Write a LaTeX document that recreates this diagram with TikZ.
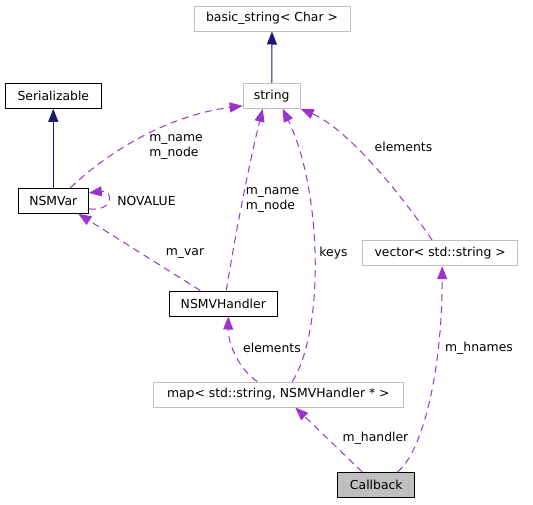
\documentclass[tikz,border=0pt]{standalone}
\usepackage{fontspec}
\setmainfont{DejaVu Sans}
\usepackage{xcolor}
\usetikzlibrary{arrows.meta}

\definecolor{navyedge}{HTML}{191970}
\definecolor{useedge}{HTML}{9A32CD}
\definecolor{extgray}{HTML}{BFBFBF}

\begin{document}
\begin{tikzpicture}[x=1pt,y=-1pt]
\tikzset{every node/.style={font=\fontsize{12.4}{15}\selectfont}}
\tikzset{cls/.style={draw=black,line width=1pt,minimum height=25pt,inner sep=0pt}}
\tikzset{extcls/.style={cls,draw=extgray}}
\tikzset{inherit/.style={draw=navyedge,line width=1pt,-{Triangle[length=13pt,width=10pt]}}}
\tikzset{usage/.style={draw=useedge,line width=1pt,dash pattern=on 7pt off 5pt,-{Triangle[length=13pt,width=10pt]}}}
\tikzset{lbl/.style={inner sep=0pt,align=left}}

\useasboundingbox (0,0) rectangle (533,504);

\node[extcls,minimum width=156pt] (basic) at (272,18.5) {basic\_string< Char >};
\node[extcls,minimum width=57pt] (str) at (271.7,95.8) {string};
\node[cls,minimum width=96pt] (serial) at (53.3,95.8) {Serializable};
\node[cls,minimum width=70pt] (nsmvar) at (53.3,200.8) {NSMVar};
\node[extcls,minimum width=155pt] (vec) at (440.2,253.2) {vector< std::string >};
\node[cls,minimum width=108pt] (nsmh) at (223.3,303.5) {NSMVHandler};
\node[extcls,minimum width=250pt] (map) at (278.3,394.5) {map< std::string, NSMVHandler * >};
\node[cls,fill=extgray,minimum width=77pt] (cb) at (376.3,485) {Callback};

\draw[inherit] (str) -- (basic);
\draw[inherit] (nsmvar) -- (serial);

\draw[usage] ([xshift=17pt]nsmvar.north) .. controls (110,150) and (170,115) .. ([yshift=3pt]str.south west);
\draw[usage] ([yshift=-8pt]nsmvar.east) .. controls (114,212) and (114,190) .. ([yshift=8pt]nsmvar.east);
\draw[usage] ([xshift=-23pt]nsmh.north) -- ([xshift=25pt]nsmvar.south);
\draw[usage] ([xshift=3pt]nsmh.north) .. controls (236,230) and (250,160) .. ([xshift=-9pt]str.south);
\draw[usage] ([xshift=14pt]map.north) .. controls (325,330) and (322,190) .. ([xshift=11pt]str.south);
\draw[usage] ([xshift=-21pt]map.north) .. controls (240,370) and (228,345) .. ([xshift=5pt]nsmh.south);
\draw[usage] ([xshift=-8pt]vec.north) .. controls (405,200) and (350,130) .. (str.south east);
\draw[usage] ([xshift=-14pt]cb.north) -- ([xshift=17pt]map.south);
\draw[usage] ([xshift=21pt]cb.north) .. controls (420,455) and (442,380) .. ([xshift=2pt]vec.south);

\node[lbl] (l1) at (176,147) {m\_name\\m\_node};
\node[lbl] (l2) at (146.5,200.5) {NOVALUE};
\node[lbl] (l3) at (185,253) {m\_var};
\node[lbl] (l4) at (272.5,200) {m\_name\\m\_node};
\node[lbl] (l5) at (333.5,253) {keys};
\node[lbl] (l6) at (403.5,147) {elements};
\node[lbl] (l7) at (272,348) {elements};
\node[lbl] (l8) at (375.5,438) {m\_handler};
\node[lbl] (l9) at (479,348) {m\_hnames};
\end{tikzpicture}
\end{document}
